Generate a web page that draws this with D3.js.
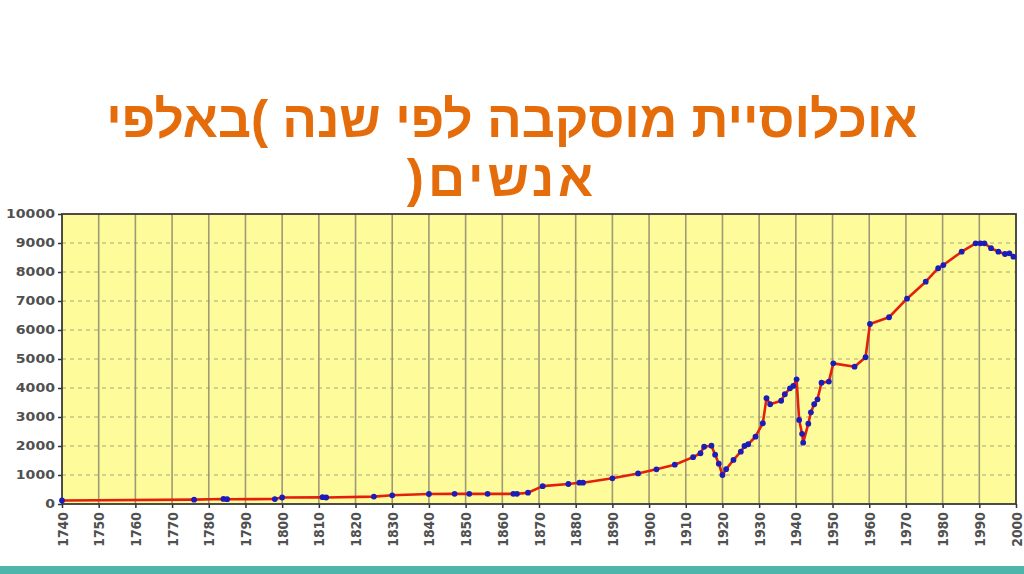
<!DOCTYPE html>
<html>
<head>
<meta charset="utf-8">
<script src="https://cdn.jsdelivr.net/npm/d3@7"></script>
<style>
  html, body { margin: 0; padding: 0; background: #fff; }
  #wrap { position: relative; width: 1024px; height: 574px; overflow: hidden; }
  .title {
    position: absolute; left: 0; width: 1024px; text-align: center;
    font-family: "Liberation Sans", Arial, sans-serif; font-weight: bold;
    font-size: 51.5px; color: #E46C0A; line-height: 1; white-space: nowrap;
  }
  #chart { position: absolute; left: 0; top: 0; }
</style>
</head>
<body>
<div id="wrap">
  <div class="title" dir="rtl" style="top: 94px; left: 0px;">אוכלוסיית מוסקבה לפי שנה )באלפי</div>
  <div class="title" dir="rtl" style="top: 153px; left: -10px; letter-spacing: 4px;">אנשים(</div>
  <div id="chart"></div>
</div>
<script>
'use strict';

// population of Moscow, thousands
const years = [1740, 1776, 1784, 1785, 1798, 1800, 1811, 1812, 1825, 1830,
  1840, 1847, 1851, 1856, 1863, 1864, 1867, 1871, 1878, 1881,
  1882, 1890, 1897, 1902, 1907, 1912, 1914, 1915, 1917, 1918,
  1919, 1920, 1921, 1923, 1925, 1926, 1927, 1929, 1931, 1932,
  1933, 1936, 1937, 1938.4, 1939.3, 1940.2, 1940.9, 1941.7, 1942, 1943.4,
  1944.1, 1945, 1945.9, 1947, 1949, 1950.2, 1956, 1959, 1960.2, 1965.4,
  1970.3, 1975.4, 1978.8, 1980.2, 1985.2, 1989, 1990.3, 1991.4, 1993.2, 1995.2,
  1997, 1998.2, 1999.3];
const population = [120, 150, 175, 165, 170, 225, 235, 225, 255, 300,
  345, 350, 350, 350, 350, 350, 390, 615, 690, 735,
  735, 885, 1055, 1195, 1355, 1615, 1750, 1975, 2010, 1700,
  1390, 1000, 1200, 1520, 1805, 2000, 2060, 2320, 2785, 3650,
  3440, 3560, 3785, 3990, 4070, 4300, 2900, 2420, 2115, 2770,
  3160, 3440, 3610, 4185, 4220, 4850, 4735, 5060, 6210, 6440,
  7080, 7665, 8130, 8240, 8700, 8990, 8990, 8990, 8820, 8700,
  8620, 8645, 8530];
const xTicks = d3.range(1740, 2001, 10);
const yTicks = d3.range(0, 10001, 1000);

window.addEventListener('load', () => {
    const data = years.map((y, i) => ({year: y, value: population[i]}));

    const svg = d3.select('#chart').append('svg')
        .attr('width', 1024)
        .attr('height', 574);

    // bottom stripe of the slide
    svg.append('rect')
        .attr('x', 0).attr('y', 566)
        .attr('width', 1024).attr('height', 8)
        .attr('fill', '#4DB5A9');

    const left = 62, right = 1016, top = 214, bottom = 504;

    const x = d3.scaleLinear().domain([1740, 2000]).range([left, right]);
    const y = d3.scaleLinear().domain([0, 10000]).range([bottom, top]);

    // plot background
    svg.append('rect')
        .attr('x', left).attr('y', top)
        .attr('width', right - left).attr('height', bottom - top)
        .attr('fill', '#FEFC9A');

    // horizontal dashed grid
    svg.append('g')
      .selectAll('line')
      .data(yTicks.slice(1, -1))
      .join('line')
        .attr('x1', left).attr('x2', right)
        .attr('y1', d => y(d)).attr('y2', d => y(d))
        .attr('stroke', '#A9A47A')
        .attr('stroke-width', 1.2)
        .attr('stroke-dasharray', '4,4');

    // vertical grid
    svg.append('g')
      .selectAll('line')
      .data(xTicks.slice(1, -1))
      .join('line')
        .attr('x1', d => x(d)).attr('x2', d => x(d))
        .attr('y1', top).attr('y2', bottom)
        .attr('stroke', '#9E9976')
        .attr('stroke-width', 1.6);

    // x axis
    const xAxis = svg.append('g')
        .attr('transform', `translate(0,${bottom})`)
        .call(d3.axisBottom(x).tickValues(xTicks).tickFormat(d3.format('d')).tickSize(4).tickSizeOuter(0));
    xAxis.select('.domain').remove();
    xAxis.selectAll('.tick line').attr('stroke', '#333').attr('stroke-width', 1.5);
    xAxis.selectAll('.tick text')
        .attr('x', 0).attr('y', 0).attr('dy', null)
        .attr('transform', 'scale(1.12,1) rotate(-90) translate(-8,4.5)')
        .style('text-anchor', 'end')
        .attr('fill', '#505050')
        .style('font-family', '"DejaVu Sans", sans-serif')
        .style('font-weight', 'bold')
        .style('font-size', '12.5px');

    // y axis
    const yAxis = svg.append('g')
        .attr('transform', `translate(${left},0)`)
        .call(d3.axisLeft(y).tickValues(yTicks).tickFormat(d3.format('d')).tickSize(4).tickSizeOuter(0));
    yAxis.select('.domain').remove();
    yAxis.selectAll('.tick line').attr('stroke', '#333').attr('stroke-width', 1.5);
    yAxis.selectAll('.tick text')
        .attr('x', -7)
        .attr('fill', '#505050')
        .attr('textLength', d => String(d).length * 9.8)
        .attr('lengthAdjust', 'spacingAndGlyphs')
        .style('font-family', '"DejaVu Sans", sans-serif')
        .style('font-weight', 'bold')
        .style('font-size', '11.5px');

    // frame
    svg.append('rect')
        .attr('x', left).attr('y', top)
        .attr('width', right - left).attr('height', bottom - top)
        .attr('fill', 'none')
        .attr('stroke', '#3a3a3a')
        .attr('stroke-width', 1.8);

    // the line
    svg.append('path')
        .datum(data)
        .attr('fill', 'none')
        .attr('stroke', '#E3200C')
        .attr('stroke-width', 2.6)
        .attr('stroke-linejoin', 'round')
        .attr('d', d3.line()
            .x(d => x(d.year))
            .y(d => y(d.value)));

    // points
    svg.append('g')
      .selectAll('circle')
      .data(data)
      .join('circle')
        .attr('cx', d => x(d.year))
        .attr('cy', d => y(d.value))
        .attr('r', 2.9)
        .attr('fill', '#1C1CB8');
});
</script>
</body>
</html>
